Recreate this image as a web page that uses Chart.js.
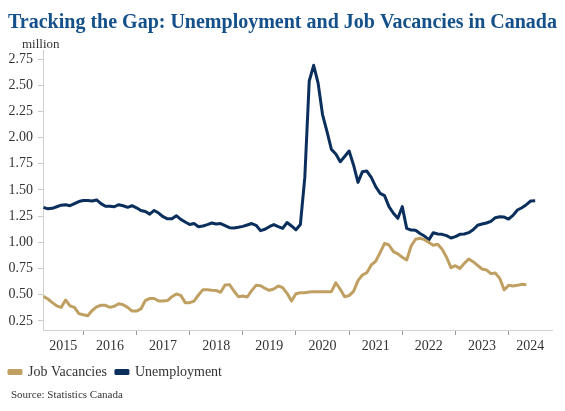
<!DOCTYPE html>
<html>
<head>
<meta charset="utf-8">
<script src="https://cdn.jsdelivr.net/npm/chart.js@4.4.1/dist/chart.umd.min.js"></script>
<style>
  html, body { margin: 0; padding: 0; background: #fff; }
  #wrap { width: 565px; height: 411px; }
</style>
</head>
<body>
<div id="wrap"><canvas id="canvas" width="565" height="411"></canvas></div>
<script>
// monthly, April 2015 to July 2024
const months = [
  '2015-04','2015-05','2015-06','2015-07','2015-08','2015-09','2015-10','2015-11','2015-12',
  '2016-01','2016-02','2016-03','2016-04','2016-05','2016-06','2016-07','2016-08','2016-09','2016-10','2016-11','2016-12',
  '2017-01','2017-02','2017-03','2017-04','2017-05','2017-06','2017-07','2017-08','2017-09','2017-10','2017-11','2017-12',
  '2018-01','2018-02','2018-03','2018-04','2018-05','2018-06','2018-07','2018-08','2018-09','2018-10','2018-11','2018-12',
  '2019-01','2019-02','2019-03','2019-04','2019-05','2019-06','2019-07','2019-08','2019-09','2019-10','2019-11','2019-12',
  '2020-01','2020-02','2020-03','2020-04','2020-05','2020-06','2020-07','2020-08','2020-09','2020-10','2020-11','2020-12',
  '2021-01','2021-02','2021-03','2021-04','2021-05','2021-06','2021-07','2021-08','2021-09','2021-10','2021-11','2021-12',
  '2022-01','2022-02','2022-03','2022-04','2022-05','2022-06','2022-07','2022-08','2022-09','2022-10','2022-11','2022-12',
  '2023-01','2023-02','2023-03','2023-04','2023-05','2023-06','2023-07','2023-08','2023-09','2023-10','2023-11','2023-12',
  '2024-01','2024-02','2024-03','2024-04','2024-05','2024-06','2024-07'
];

// millions, ends July 2024
const unemployment = [
  1.335, 1.32, 1.325, 1.34, 1.355, 1.36, 1.35, 1.37, 1.39,
  1.40, 1.40, 1.395, 1.405, 1.37, 1.345, 1.345, 1.34, 1.36, 1.35, 1.335, 1.35,
  1.33, 1.305, 1.295, 1.27, 1.305, 1.28, 1.245, 1.225, 1.225, 1.255, 1.22, 1.195,
  1.17, 1.18, 1.15, 1.157, 1.17, 1.185, 1.175, 1.18, 1.16, 1.14, 1.137, 1.144,
  1.153, 1.166, 1.18, 1.163, 1.112, 1.125, 1.15, 1.17, 1.15, 1.134, 1.19, 1.157,
  1.12, 1.17, 1.62, 2.54, 2.69, 2.52, 2.22, 2.06, 1.888, 1.844, 1.77, 1.82,
  1.872, 1.739, 1.573, 1.675, 1.681, 1.621, 1.532, 1.468, 1.446, 1.341, 1.278, 1.23,
  1.341, 1.134, 1.118, 1.115, 1.085, 1.061, 1.023, 1.093, 1.08, 1.077, 1.064, 1.042,
  1.055, 1.077, 1.08, 1.093, 1.121, 1.163, 1.175, 1.185, 1.201, 1.236, 1.245, 1.242,
  1.223, 1.258, 1.309, 1.331, 1.36, 1.395, 1.398
];

// millions, ends May 2024
const jobVacancies = [
  0.485, 0.46, 0.425, 0.395, 0.38, 0.45, 0.395, 0.38, 0.32,
  0.31, 0.30, 0.35, 0.385, 0.40, 0.40, 0.38, 0.39, 0.415, 0.405, 0.38, 0.345,
  0.345, 0.365, 0.445, 0.465, 0.465, 0.44, 0.44, 0.445, 0.482, 0.508, 0.495, 0.425,
  0.425, 0.44, 0.498, 0.549, 0.549, 0.543, 0.54, 0.524, 0.594, 0.597, 0.536, 0.482,
  0.489, 0.479, 0.54, 0.59, 0.587, 0.562, 0.543, 0.555, 0.584, 0.568, 0.514, 0.44,
  0.51, 0.52, 0.52, 0.527, 0.53, 0.53, 0.53, 0.53, 0.53, 0.615, 0.553, 0.482,
  0.492, 0.533, 0.635, 0.689, 0.711, 0.785, 0.82, 0.902, 0.991, 0.975, 0.912, 0.89,
  0.858, 0.832, 0.966, 1.03, 1.039, 1.026, 1.0, 0.972, 0.982, 0.934, 0.858, 0.759,
  0.778, 0.75, 0.80, 0.842, 0.816, 0.781, 0.746, 0.737, 0.702, 0.708, 0.657, 0.546,
  0.59, 0.584, 0.59, 0.60, 0.597
];

const years = ['2015','2016','2017','2018','2019','2020','2021','2022','2023','2024'];
const yTicks = [0.25, 0.5, 0.75, 1.0, 1.25, 1.5, 1.75, 2.0, 2.25, 2.5, 2.75];

const SERIF = '"Liberation Serif", "Times New Roman", serif';
const NAVY = '#0b2f5c';
const GOLD = '#c0a062';

// month number counted from Jan 2015
function monthIndex(s) {
  const [y, m] = s.split('-').map(Number);
  return (y - 2015) * 12 + (m - 1);
}

const xMin = 2.9, xMax = 117.8;

// tick marks at year starts, labels in the middle of the visible part of each year
const boundaryTicks = years.slice(1).map(y => monthIndex(y + '-01'));
const labelTicks = years.map(y => {
  const a = Math.max(monthIndex(y + '-01'), xMin);
  const b = Math.min(monthIndex(y + '-01') + 12, xMax);
  return (a + b) / 2;
});

function toPoints(values) {
  return values.map((v, i) => ({ x: monthIndex(months[i]), y: v }));
}

const textPlugin = {
  id: 'texts',
  afterDraw(chart) {
    const ctx = chart.ctx;
    ctx.save();
    ctx.textAlign = 'left';
    ctx.textBaseline = 'alphabetic';
    ctx.fillStyle = '#14508a';
    ctx.font = 'bold 20px ' + SERIF;
    ctx.fillText('Tracking the Gap: Unemployment and Job Vacancies in Canada', 8, 28);
    ctx.fillStyle = '#333';
    ctx.font = '13px ' + SERIF;
    ctx.fillText('million', 22, 48);
    ctx.font = '11px ' + SERIF;
    ctx.fillText('Source: Statistics Canada', 11, 398);
    ctx.restore();
  }
};

const ctx = document.getElementById('canvas').getContext('2d');
const myChart = new Chart(ctx, {
  type: 'line',
  data: {
    datasets: [{
      label: 'Job Vacancies',
      data: toPoints(jobVacancies),
      borderColor: GOLD,
      backgroundColor: GOLD,
      borderWidth: 3,
      pointRadius: 0,
      tension: 0,
      borderJoinStyle: 'round'
    }, {
      label: 'Unemployment',
      data: toPoints(unemployment),
      borderColor: NAVY,
      backgroundColor: NAVY,
      borderWidth: 3,
      pointRadius: 0,
      tension: 0,
      borderJoinStyle: 'round'
    }]
  },
  options: {
    responsive: false,
    animation: false,
    layout: { padding: { left: 0, top: 50, right: 13, bottom: 22 } },
    plugins: {
      title: { display: false },
      tooltip: { enabled: false },
      legend: {
        position: 'bottom',
        align: 'start',
        labels: {
          boxWidth: 12,
          boxHeight: 3,
          padding: 9,
          color: '#333',
          font: { family: SERIF, size: 14 }
        }
      }
    },
    scales: {
      x: {
        type: 'linear',
        min: xMin,
        max: xMax,
        afterBuildTicks: scale => {
          scale.ticks = boundaryTicks.concat(labelTicks).sort((a, b) => a - b).map(v => ({ value: v }));
        },
        afterFit: scale => { scale.height = 26; },
        ticks: {
          autoSkip: false,
          maxRotation: 0,
          padding: 3,
          color: '#333',
          font: { family: SERIF, size: 14 },
          callback: value => {
            const i = labelTicks.indexOf(value);
            return i >= 0 ? years[i] : '';
          }
        },
        grid: {
          drawOnChartArea: false,
          drawTicks: true,
          tickLength: 5,
          color: c => (c.tick && boundaryTicks.includes(c.tick.value)) ? '#999' : 'rgba(0,0,0,0)'
        },
        border: { display: true, color: '#d0d0d0' }
      },
      y: {
        min: 0.164,
        max: 2.836,
        afterBuildTicks: scale => {
          scale.ticks = yTicks.map(v => ({ value: v }));
        },
        afterFit: scale => { scale.width = 43; },
        ticks: {
          padding: 5,
          color: '#333',
          font: { family: SERIF, size: 14 },
          callback: value => value.toFixed(2)
        },
        grid: {
          drawOnChartArea: false,
          drawTicks: true,
          tickLength: 5,
          color: '#c8c8c8'
        },
        border: { display: true, color: '#d0d0d0' }
      }
    }
  },
  plugins: [textPlugin]
});
</script>
</body>
</html>
